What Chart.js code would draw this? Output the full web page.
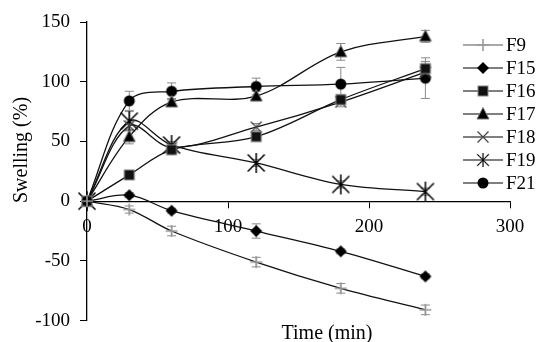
<!doctype html>
<html lang="en">
<head>
<meta charset="UTF-8">
<title>Swelling (%)</title>
<script src="https://cdn.jsdelivr.net/npm/chart.js@4"></script>
<style>
  html, body { margin: 0; padding: 0; background: #fff; }
  #wrap { width: 541px; height: 342px; }
</style>
</head>
<body>
<div id="wrap"><canvas id="grafico"></canvas></div>
<script>
// time points (min)
const times = [0, 30, 60, 120, 180, 240];
const names = ['F9', 'F15', 'F16', 'F17', 'F18', 'F19', 'F21'];

// swelling (%)
const F9  = [0, -7, -25, -51, -73, -91];
const F15 = [0, 5, -8, -25, -42, -63];
const F16 = [0, 22, 43, 54, 85, 111];
const F17 = [0, 54, 83, 88, 125, 138];
const F18 = [0, 63, 45, 62, 83, 108];
const F19 = [0, 67, 47, 32, 14, 8];
const F21 = [0, 84, 92, 96, 98, 103];

// error bars (+/-)
const F9err  = [0, 3, 4, 4, 4, 4];
const F15err = [0, 2, 2, 6, 2, 2];
const F16err = [0, 3, 3, 3, 4, 6];
const F17err = [0, 6, 3, 4, 7, 5];
const F18err = [0, 4, 3, 3, 4, 4];
const F19err = [0, 8, 3, 3, 3, 3];
const F21err = [0, 8, 7, 7, 14, 17];

const xTicks = [0, 100, 200, 300];
const yTicks = [-100, -50, 0, 50, 100, 150];

const FONT = '"Liberation Serif", "Times New Roman", serif';

// marker images, drawn once
function makeMarker(kind) {
  const s = 24, m = s / 2;
  const c = document.createElement('canvas');
  c.width = s; c.height = s;
  const g = c.getContext('2d');
  if (kind === 'plus') {
    g.strokeStyle = '#9a9a9a'; g.lineWidth = 1.6;
    g.beginPath();
    g.moveTo(m - 6, m); g.lineTo(m + 6, m);
    g.moveTo(m, m - 6); g.lineTo(m, m + 6);
    g.stroke();
  } else if (kind === 'diamond') {
    g.fillStyle = '#000';
    g.beginPath();
    g.moveTo(m, m - 6); g.lineTo(m + 6, m); g.lineTo(m, m + 6); g.lineTo(m - 6, m);
    g.closePath(); g.fill();
  } else if (kind === 'square') {
    g.fillStyle = '#111'; g.strokeStyle = '#888'; g.lineWidth = 1;
    g.fillRect(m - 5, m - 5, 10, 10);
    g.strokeRect(m - 5, m - 5, 10, 10);
  } else if (kind === 'triangle') {
    g.fillStyle = '#000'; g.strokeStyle = '#777'; g.lineWidth = 1;
    g.beginPath();
    g.moveTo(m, m - 6.5); g.lineTo(m + 6, m + 5); g.lineTo(m - 6, m + 5);
    g.closePath(); g.fill(); g.stroke();
  } else if (kind === 'cross') {
    g.strokeStyle = '#444'; g.lineWidth = 1.2;
    g.beginPath();
    g.moveTo(m - 5.5, m - 5.5); g.lineTo(m + 5.5, m + 5.5);
    g.moveTo(m + 5.5, m - 5.5); g.lineTo(m - 5.5, m + 5.5);
    g.stroke();
  } else if (kind === 'asterisk') {
    g.strokeStyle = '#000'; g.lineWidth = 1.5;
    g.beginPath();
    g.moveTo(m, m - 10); g.lineTo(m, m + 10);
    g.moveTo(m - 8.5, m - 8.5); g.lineTo(m + 8.5, m + 8.5);
    g.moveTo(m + 8.5, m - 8.5); g.lineTo(m - 8.5, m + 8.5);
    g.stroke();
  } else if (kind === 'circle') {
    g.fillStyle = '#000';
    g.beginPath(); g.arc(m, m, 5.5, 0, Math.PI * 2); g.fill();
  }
  return c;
}

const series = [
  { label: 'F9',  data: F9,  err: F9err,  marker: makeMarker('plus') },
  { label: 'F15', data: F15, err: F15err, marker: makeMarker('diamond') },
  { label: 'F16', data: F16, err: F16err, marker: makeMarker('square') },
  { label: 'F17', data: F17, err: F17err, marker: makeMarker('triangle') },
  { label: 'F18', data: F18, err: F18err, marker: makeMarker('cross') },
  { label: 'F19', data: F19, err: F19err, marker: makeMarker('asterisk'), legendScale: 0.7 },
  { label: 'F21', data: F21, err: F21err, marker: makeMarker('circle') }
];

const datasets = series.map(s => ({
  label: s.label,
  data: times.map((t, i) => ({ x: t, y: s.data[i] })),
  errors: s.err,
  borderColor: '#111',
  backgroundColor: '#111',
  borderWidth: 1.3,
  tension: 0.35,
  fill: false,
  pointStyle: s.marker,
  pointRadius: 5,
  clip: false
}));

// vertical error bars through the chart's own scales
const errorBars = {
  id: 'errorBars',
  beforeDatasetsDraw(chart) {
    const ctx = chart.ctx, xs = chart.scales.x, ys = chart.scales.y;
    ctx.save();
    ctx.strokeStyle = '#8a8a8a';
    ctx.lineWidth = 1;
    chart.data.datasets.forEach(ds => {
      ds.data.forEach((p, i) => {
        const e = ds.errors[i];
        if (!e) return;
        const x = xs.getPixelForValue(p.x);
        const y1 = ys.getPixelForValue(p.y + e);
        const y2 = ys.getPixelForValue(p.y - e);
        ctx.beginPath();
        ctx.moveTo(x, y1); ctx.lineTo(x, y2);
        ctx.moveTo(x - 4.5, y1); ctx.lineTo(x + 4.5, y1);
        ctx.moveTo(x - 4.5, y2); ctx.lineTo(x + 4.5, y2);
        ctx.stroke();
      });
    });
    ctx.restore();
  }
};

// axis titles + legend
const extras = {
  id: 'extras',
  afterDraw(chart) {
    const ctx = chart.ctx;
    ctx.save();
    ctx.fillStyle = '#000';
    ctx.font = '20px ' + FONT;
    ctx.textAlign = 'center';
    ctx.textBaseline = 'alphabetic';
    ctx.fillText('Time (min)', 327, 339);

    ctx.translate(27, 150);
    ctx.rotate(-Math.PI / 2);
    ctx.fillText('Swelling (%)', 0, 0);
    ctx.restore();

    // legend
    ctx.save();
    ctx.font = '19px ' + FONT;
    ctx.textAlign = 'left';
    ctx.textBaseline = 'middle';
    series.forEach((s, i) => {
      const y = 45 + i * 23;
      ctx.strokeStyle = i === 0 ? '#555' : '#000';
      ctx.lineWidth = 1.2;
      ctx.beginPath();
      ctx.moveTo(463, y); ctx.lineTo(503, y);
      ctx.stroke();
      const k = s.legendScale || 1;
      const w = s.marker.width * k, h = s.marker.height * k;
      ctx.drawImage(s.marker, 483 - w / 2, y - h / 2, w, h);
      ctx.fillStyle = '#000';
      ctx.fillText(s.label, 506, y + 1);
    });
    ctx.restore();
  }
};

new Chart(document.getElementById('grafico'), {
  type: 'line',
  data: { datasets: datasets },
  plugins: [errorBars, extras],
  options: {
    responsive: true,
    maintainAspectRatio: false,
    animation: false,
    layout: { padding: { left: 0, top: 22, right: 31, bottom: 20 } },
    plugins: { legend: { display: false }, tooltip: { enabled: false } },
    scales: {
      x: {
        type: 'linear',
        position: { y: 0 },
        min: 0, max: 300,
        afterBuildTicks: s => { s.ticks = xTicks.map(v => ({ value: v })); },
        afterFit: s => { s.height = 0; },
        grid: { drawOnChartArea: false, drawTicks: true, tickLength: 6, color: '#000' },
        border: { display: true, color: '#000', width: 1.3 },
        ticks: { color: '#000', padding: 8, maxRotation: 0, font: { family: FONT, size: 19 } }
      },
      y: {
        type: 'linear',
        position: 'left',
        min: -100, max: 150,
        afterBuildTicks: s => { s.ticks = yTicks.map(v => ({ value: v })); },
        afterFit: s => { s.width = 87; },
        grid: { drawOnChartArea: false, drawTicks: true, tickLength: 7, color: '#000' },
        border: { display: true, color: '#000', width: 1.3 },
        ticks: { color: '#000', padding: 10, font: { family: FONT, size: 19 } }
      }
    }
  }
});
</script>
</body>
</html>
